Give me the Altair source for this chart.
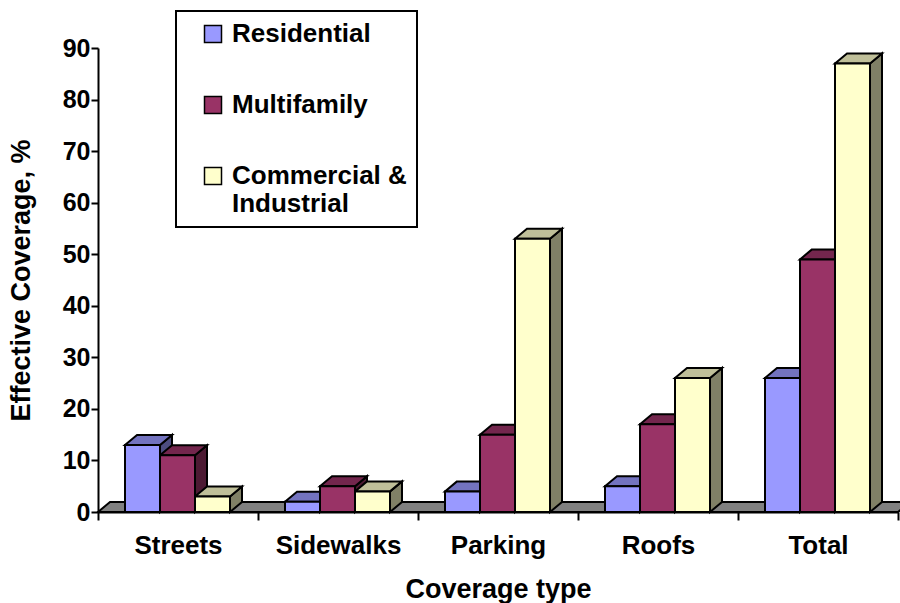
import json
import altair as alt
import pandas as pd

# Coverage categories and series values (percent effective coverage)
categories = ["Streets", "Sidewalks", "Parking", "Roofs", "Total"]
series = ["Residential", "Multifamily", "Commercial & Industrial"]
residential = [13, 2, 4, 5, 26]
multifamily = [11, 5, 15, 17, 49]
commercial = [3, 4, 53, 26, 87]

# Legend label broken over two lines
label_lines = {"Commercial & Industrial": ["Commercial &", "Industrial"]}

# Face colours: front, top (lighter shade), side (darker shade)
front_colors = ["#9999FF", "#993366", "#FFFFCC"]
top_colors = ["#7373BF", "#73264D", "#BFBF99"]
side_colors = ["#4D4D80", "#4D1A33", "#808066"]
floor_color = "#808080"

FONT = "Liberation Sans"

# Plot geometry, in scale units (one category band = 1 unit on x)
W, H = 800, 464
Y_MAX = 90
BAR = 35 / 160          # bar width
GAP0 = 27 / 160         # gap before the first bar of a group
DX = 12 / 160           # depth offset to the right
DY = 10 * Y_MAX / H     # depth offset upward

values = [residential, multifamily, commercial]

fronts, sides, tops = [], [], []
for ci, cat in enumerate(categories):
    for si, name in enumerate(series):
        v = values[si][ci]
        xl = ci + GAP0 + si * BAR
        xr = xl + BAR
        pid = f"{ci}-{si}"
        fronts.append({"series": name, "cat": cat, "x": xl, "x2": xr, "y": 0, "y2": v})
        sides.append({"id": pid, "fill": side_colors[si], "x": xr, "y": 0, "y2": v})
        sides.append({"id": pid, "fill": side_colors[si], "x": xr + DX, "y": DY, "y2": v + DY})
        tops.append({"id": pid, "fill": top_colors[si], "y": v, "x": xl, "x2": xr})
        tops.append({"id": pid, "fill": top_colors[si], "y": v + DY, "x": xl + DX, "x2": xr + DX})

n = len(categories)
floor = [
    {"id": "floor", "y": 0, "x": 0, "x2": n},
    {"id": "floor", "y": DY, "x": DX, "x2": n + DX},
]

df_front = pd.DataFrame(fronts)
df_side = pd.DataFrame(sides)
df_top = pd.DataFrame(tops)
df_floor = pd.DataFrame(floor)

# Category names at band centres, ticks at band boundaries
cat_js = json.dumps(categories)
x_axis = alt.Axis(
    values=[i / 2 for i in range(2 * n + 1)],
    labelExpr=f"datum.value % 1 === 0 ? '' : {cat_js}[floor(datum.value)]",
    tickOpacity={"condition": {"test": "datum.value % 1 === 0", "value": 1}, "value": 0},
    title="Coverage type",
    labelFont=FONT, labelFontSize=26, labelFontWeight="bold", labelColor="black",
    labelPadding=12, labelFlush=False, labelOverlap=False,
    titleFont=FONT, titleFontSize=27, titleFontWeight="bold", titleColor="black",
    titlePadding=18,
    tickColor="black", tickWidth=2, tickSize=8,
    domainColor="black", domainWidth=2, grid=False,
)
y_axis = alt.Axis(
    values=list(range(0, Y_MAX + 1, 10)),
    title="Effective Coverage, %",
    labelFont=FONT, labelFontSize=25, labelFontWeight="bold", labelColor="black",
    labelPadding=1,
    titleFont=FONT, titleFontSize=27, titleFontWeight="bold", titleColor="black",
    titlePadding=27,
    tickColor="black", tickWidth=2, tickSize=7,
    domainColor="black", domainWidth=2, grid=False,
)
x_scale = alt.Scale(domain=[0, n], nice=False, zero=False)
y_scale = alt.Scale(domain=[0, Y_MAX], nice=False, zero=False)

x_enc = alt.X("x:Q", scale=x_scale, axis=x_axis)
y_enc = alt.Y("y:Q", scale=y_scale, axis=y_axis)

stroke = dict(stroke="black", strokeWidth=2, strokeJoin="miter")

floor_layer = alt.Chart(df_floor).mark_area(orient="horizontal", fill=floor_color, **stroke).encode(
    y=y_enc, x=x_enc, x2="x2:Q", detail="id:N"
)

side_layer = alt.Chart(df_side).mark_area(orient="vertical", **stroke).encode(
    x=x_enc, y=y_enc, y2="y2:Q", detail="id:N",
    fill=alt.Fill("fill:N", scale=None),
)

top_layer = alt.Chart(df_top).mark_area(orient="horizontal", **stroke).encode(
    y=y_enc, x=x_enc, x2="x2:Q", detail="id:N",
    fill=alt.Fill("fill:N", scale=None),
)

legend_expr = " : ".join(
    [f"datum.label === {json.dumps(k)} ? {json.dumps(v)}" for k, v in label_lines.items()]
) + " : datum.label"

front_layer = alt.Chart(df_front).mark_rect(**stroke).encode(
    x=x_enc, x2="x2:Q", y=y_enc, y2="y2:Q",
    fill=alt.Fill(
        "series:N",
        scale=alt.Scale(domain=series, range=front_colors),
        legend=alt.Legend(
            title=None,
            orient="none",
            legendX=78,
            legendY=-37,
            padding=10,
            strokeColor="black",
            symbolType="square",
            symbolSize=289,
            symbolStrokeColor="black",
            symbolStrokeWidth=1.5,
            symbolOffset=14,
            labelOffset=6,
            labelFont=FONT,
            labelFontSize=26,
            labelFontWeight="bold",
            labelColor="black",
            labelLimit=400,
            labelExpr=legend_expr,
            rowPadding=45,
        ),
    ),
)

chart = (
    alt.layer(floor_layer, side_layer, top_layer, front_layer)
    .resolve_scale(fill="independent")
    .properties(
        width=W,
        height=H,
        autosize=alt.AutoSizeParams(type="none"),
        padding={"left": 98, "top": 48, "right": 2, "bottom": 91},
        background="white",
    )
    .configure_view(stroke=None)
    .configure_legend(strokeWidth=2)
)

chart.save("out.html", embed_options={"renderer": "svg", "actions": False})
